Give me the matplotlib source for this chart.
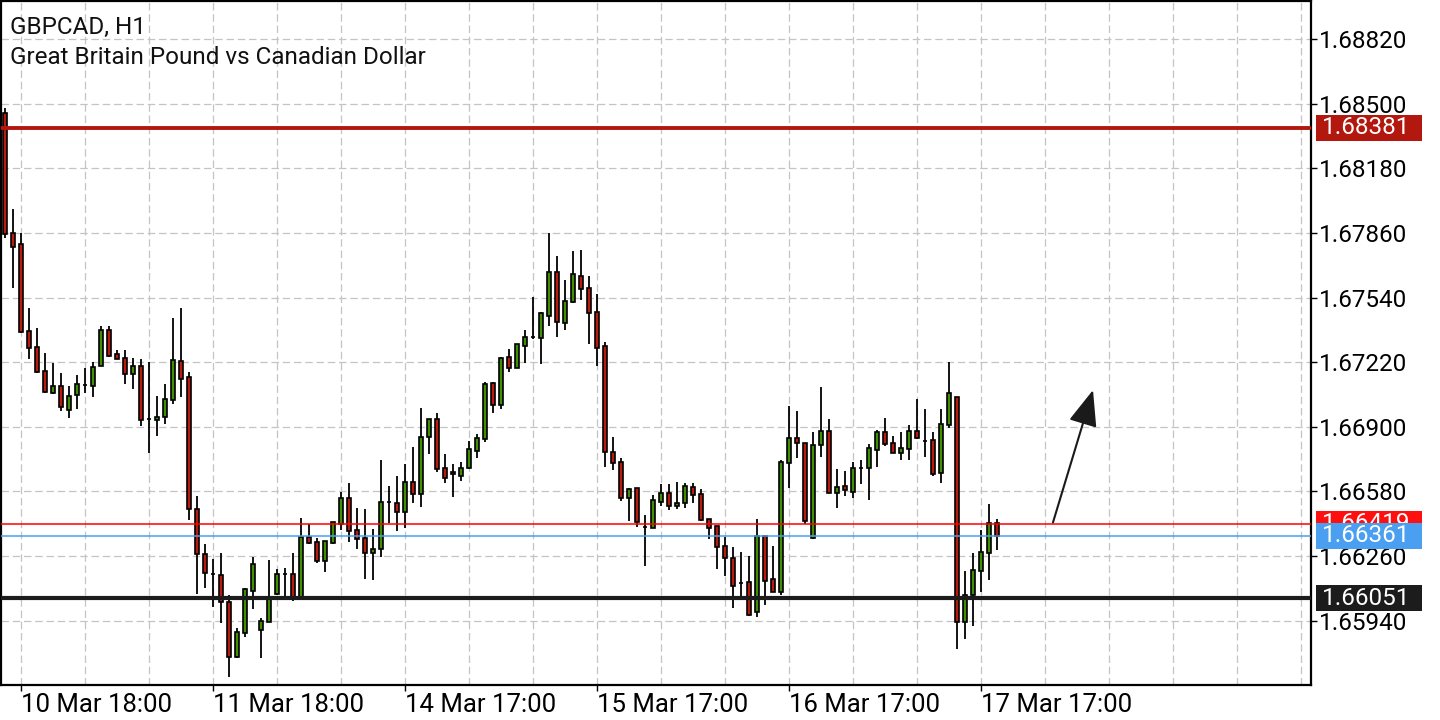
import matplotlib
matplotlib.use('Agg')
import matplotlib.pyplot as plt
import matplotlib.transforms as mtransforms
from matplotlib.patches import Rectangle

plt.rcParams['font.family'] = ['Roboto', 'DejaVu Sans']

# GBPCAD H1 candles
opens = [1.68455, 1.67858, 1.67803, 1.67374, 1.67296, 1.67178, 1.67066, 1.67103, 1.66983, 1.67056,
         1.67107, 1.67103, 1.67202, 1.67378, 1.67262, 1.67239, 1.67161, 1.67202, 1.66939, 1.66934,
         1.66947, 1.67033, 1.67227, 1.67145, 1.66493, 1.66270, 1.66171, 1.66166, 1.66034, 1.65759,
         1.65878, 1.66087, 1.65894, 1.65935, 1.66071, 1.66173, 1.66173, 1.66059, 1.66353, 1.66331,
         1.66237, 1.66326, 1.66419, 1.66549, 1.66389, 1.66348, 1.66277, 1.66293, 1.66526, 1.66521,
         1.66477, 1.66628, 1.66566, 1.66848, 1.66937, 1.66695, 1.66674, 1.66656, 1.66695, 1.66780,
         1.66838, 1.67115, 1.67008, 1.67244, 1.67190, 1.67302, 1.67343, 1.67338, 1.67450, 1.67665,
         1.67412, 1.67516, 1.67648, 1.67586, 1.67467, 1.67302, 1.66774, 1.66724, 1.66546, 1.66595,
         1.66405, 1.66400, 1.66529, 1.66571, 1.66508, 1.66521, 1.66603, 1.66566, 1.66442, 1.66409,
         1.66310, 1.66252, 1.66125, 1.66130, 1.65983, 1.66359, 1.66145, 1.66081, 1.66719, 1.66843,
         1.66818, 1.66348, 1.66810, 1.66881, 1.66571, 1.66608, 1.66576, 1.66697, 1.66697, 1.66785,
         1.66873, 1.66818, 1.66769, 1.66789, 1.66879, 1.66831, 1.66835, 1.66673, 1.66909, 1.67046,
         1.65932, 1.66067, 1.66186, 1.66277, 1.66422]
highs = [1.68477, 1.67978, 1.67858, 1.67487, 1.67388, 1.67264, 1.67214, 1.67165, 1.67102, 1.67155,
         1.67190, 1.67222, 1.67399, 1.67399, 1.67280, 1.67280, 1.67239, 1.67234, 1.67219, 1.67054,
         1.67110, 1.67437, 1.67487, 1.67170, 1.66559, 1.66318, 1.66244, 1.66274, 1.66067, 1.65902,
         1.66100, 1.66257, 1.65952, 1.66240, 1.66194, 1.66199, 1.66274, 1.66447, 1.66419, 1.66348,
         1.66335, 1.66430, 1.66579, 1.66620, 1.66496, 1.66491, 1.66392, 1.66736, 1.66607, 1.66656,
         1.66716, 1.66798, 1.66992, 1.66939, 1.66967, 1.66764, 1.66716, 1.66727, 1.66830, 1.66863,
         1.67123, 1.67123, 1.67244, 1.67285, 1.67310, 1.67379, 1.67544, 1.67467, 1.67861, 1.67746,
         1.67627, 1.67770, 1.67775, 1.67647, 1.67557, 1.67318, 1.66851, 1.66747, 1.66595, 1.66597,
         1.66463, 1.66562, 1.66617, 1.66617, 1.66628, 1.66620, 1.66623, 1.66590, 1.66444, 1.66411,
         1.66356, 1.66303, 1.66279, 1.66260, 1.66442, 1.66362, 1.66310, 1.66736, 1.67003, 1.66978,
         1.66820, 1.66876, 1.67096, 1.66939, 1.66691, 1.66681, 1.66724, 1.66736, 1.66815, 1.66884,
         1.66942, 1.66854, 1.66873, 1.66909, 1.67036, 1.66987, 1.66873, 1.66987, 1.67219, 1.67048,
         1.66186, 1.66274, 1.66389, 1.66518, 1.66442]
lows = [1.67833, 1.67589, 1.67364, 1.67236, 1.67168, 1.67067, 1.67062, 1.66980, 1.66942, 1.66987,
        1.67066, 1.67046, 1.67201, 1.67247, 1.67236, 1.67110, 1.67086, 1.66905, 1.66769, 1.66856,
        1.66912, 1.67011, 1.67046, 1.66439, 1.66072, 1.66100, 1.66009, 1.65927, 1.65663, 1.65755,
        1.65861, 1.65996, 1.65754, 1.65934, 1.66067, 1.66059, 1.66039, 1.66057, 1.66322, 1.66227,
        1.66183, 1.66318, 1.66389, 1.66331, 1.66295, 1.66146, 1.66141, 1.66257, 1.66425, 1.66386,
        1.66397, 1.66524, 1.66504, 1.66764, 1.66678, 1.66623, 1.66554, 1.66633, 1.66691, 1.66747,
        1.66826, 1.66970, 1.66988, 1.67173, 1.67189, 1.67217, 1.67333, 1.67211, 1.67399, 1.67346,
        1.67379, 1.67515, 1.67528, 1.67310, 1.67201, 1.66702, 1.66686, 1.66534, 1.66435, 1.66402,
        1.66212, 1.66399, 1.66509, 1.66488, 1.66491, 1.66496, 1.66524, 1.66436, 1.66343, 1.66194,
        1.66163, 1.66001, 1.66059, 1.65966, 1.65958, 1.66018, 1.66080, 1.66067, 1.66595, 1.66747,
        1.66419, 1.66347, 1.66752, 1.66570, 1.66499, 1.66559, 1.66549, 1.66617, 1.66538, 1.66702,
        1.66806, 1.66768, 1.66736, 1.66736, 1.66842, 1.66752, 1.66656, 1.66623, 1.66892, 1.65798,
        1.65848, 1.65914, 1.66081, 1.66141, 1.66290]
closes = [1.67854, 1.67792, 1.67368, 1.67289, 1.67173, 1.67071, 1.67103, 1.66996, 1.67054, 1.67113,
          1.67107, 1.67198, 1.67378, 1.67252, 1.67236, 1.67160, 1.67202, 1.66934, 1.66939, 1.66950,
          1.67036, 1.67231, 1.67135, 1.66493, 1.66270, 1.66175, 1.66171, 1.66031, 1.65759, 1.65886,
          1.66095, 1.66219, 1.65938, 1.66051, 1.66170, 1.66173, 1.66059, 1.66353, 1.66323, 1.66237,
          1.66335, 1.66430, 1.66549, 1.66384, 1.66344, 1.66277, 1.66296, 1.66529, 1.66526, 1.66477,
          1.66625, 1.66567, 1.66851, 1.66937, 1.66690, 1.66645, 1.66666, 1.66697, 1.66789, 1.66843,
          1.67110, 1.67008, 1.67239, 1.67190, 1.67308, 1.67343, 1.67343, 1.67462, 1.67668, 1.67417,
          1.67523, 1.67655, 1.67581, 1.67462, 1.67292, 1.66774, 1.66719, 1.66546, 1.66592, 1.66427,
          1.66405, 1.66538, 1.66571, 1.66508, 1.66524, 1.66607, 1.66562, 1.66439, 1.66397, 1.66303,
          1.66249, 1.66113, 1.66125, 1.65968, 1.66361, 1.66137, 1.66081, 1.66724, 1.66843, 1.66818,
          1.66435, 1.66810, 1.66881, 1.66571, 1.66600, 1.66587, 1.66697, 1.66697, 1.66793, 1.66876,
          1.66813, 1.66769, 1.66793, 1.66879, 1.66843, 1.66831, 1.66665, 1.66912, 1.67066, 1.65932,
          1.66067, 1.66191, 1.66279, 1.66422, 1.66361]

price_ticks = [1.65940, 1.66260, 1.66580, 1.66900, 1.67220, 1.67540, 1.67860, 1.68180, 1.68500, 1.68820]
date_pos = [2, 26, 50, 74, 98, 122]
date_labels = ['10 Mar 18:00', '11 Mar 18:00', '14 Mar 17:00', '15 Mar 17:00', '16 Mar 17:00', '17 Mar 17:00']

level_resist = 1.68381
level_ask = 1.66419
level_bid = 1.66361
level_support = 1.66051

arrow_from = (131.0, 1.66427)
arrow_to = (136.0, 1.67082)

bull = '#3f8f00'
bear = '#b81c0c'

fig = plt.figure(figsize=(14.4, 7.2), dpi=100)
ax = fig.add_axes([1 / 1440, 35 / 720, 1310 / 1440, 684 / 720])
ax.set_xlim(-0.5, 163.25)
ax.set_ylim(1.65622, 1.69008)

# grid
for p in price_ticks:
    ax.axhline(p, color='#c4c4c4', lw=0.9, dashes=(6, 3), zorder=0)
for i in range(2, 164, 8):
    ax.axvline(i, color='#c4c4c4', lw=0.9, dashes=(6, 3), zorder=0)

# candles
w = 0.55
for i in range(len(opens)):
    o, h, l, c = opens[i], highs[i], lows[i], closes[i]
    ax.plot([i, i], [l, h], color='black', lw=1.3, zorder=3, solid_capstyle='butt')
    col = bull if c > o else bear
    ax.add_patch(Rectangle((i - w / 2, min(o, c)), w, abs(c - o), facecolor=col,
                           edgecolor='black', lw=1.2, zorder=4))

# levels
ax.axhline(level_resist, color='#b3180e', lw=2.8, zorder=5)
ax.axhline(level_ask, color='#ff0000', lw=1.1, zorder=5)
ax.axhline(level_bid, color='#4a9ff0', lw=1.1, zorder=5)
ax.axhline(level_support, color='#1c1c1c', lw=3.0, zorder=5)

ax.annotate('', xy=arrow_to, xytext=arrow_from,
            arrowprops=dict(arrowstyle='-|>,head_length=0.7,head_width=0.28', mutation_scale=32,
                            color='#1a1a1a', lw=1.5, shrinkA=0, shrinkB=0), zorder=6)

# price labels on the right axis (ask label sits under the bid label, as in the terminal)
trans = mtransforms.blended_transform_factory(ax.transAxes, ax.transData)
box_h = 0.00129
levels = [(level_resist, '#b3180e'), (level_support, '#1c1c1c'), (level_ask, '#ff1010'), (level_bid, '#4a9ff0')]
z = 10
for lv, col in levels:
    ax.add_patch(Rectangle((1.0038, lv - box_h / 2), 0.081, box_h, facecolor=col, edgecolor='none',
                           transform=trans, clip_on=False, zorder=z))
    ax.text(1.0083, lv, '%.5f' % lv, color='white', fontsize=17.5, va='center', ha='left',
            transform=trans, clip_on=False, zorder=z + 1)
    z += 2

ax.yaxis.tick_right()
ax.set_yticks(price_ticks)
ax.set_yticklabels(['%.5f' % p for p in price_ticks])
ax.tick_params(axis='y', direction='out', length=4, width=1, pad=1.5, labelsize=17.5, colors='black')

ax.set_xticks(date_pos)
ax.set_xticklabels(date_labels, ha='left')
ax.tick_params(axis='x', direction='out', length=4, width=1, pad=2, labelsize=18.5)

for s in ax.spines.values():
    s.set_linewidth(1.6)
    s.set_color('black')

fig.text(10 / 1440, 1 - 34 / 720, 'GBPCAD, H1', fontsize=17.5, color='#111111', va='baseline')
fig.text(10 / 1440, 1 - 64 / 720, 'Great Britain Pound vs Canadian Dollar', fontsize=17.5,
         color='#111111', va='baseline')

fig.savefig('out.png', dpi=100, facecolor='white')
